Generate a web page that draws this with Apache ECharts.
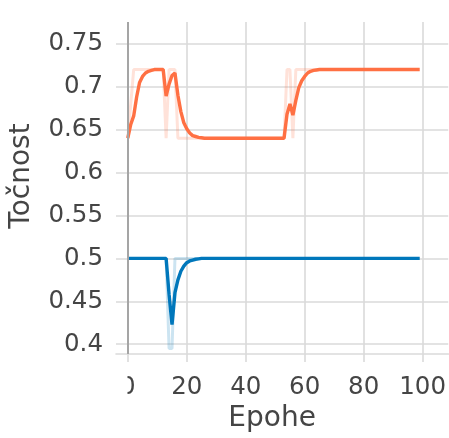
<!DOCTYPE html>
<html>
<head>
<meta charset="utf-8">
<script src="https://cdn.jsdelivr.net/npm/echarts@6/dist/echarts.min.js"></script>
<style>html,body{margin:0;padding:0;background:#fff}#c{width:449px;height:438px}</style>
</head>
<body>
<div id="c"></div>
<script>
// epochs 0..99
const epochs = Array.from({length: 100}, (_, i) => i);
const xTicks = [0, 20, 40, 60, 80, 100];
const yTicks = [0.4, 0.45, 0.5, 0.55, 0.6, 0.65, 0.7, 0.75];

// orange raw (faint)
const orangeRaw = [
  0.64, 0.68, 0.72, 0.72, 0.72, 0.72, 0.72, 0.72, 0.72, 0.72,
  0.72, 0.72, 0.72, 0.64, 0.72, 0.72, 0.72, 0.64, 0.64, 0.64,
  0.64, 0.64, 0.64, 0.64, 0.64, 0.64, 0.64, 0.64, 0.64, 0.64,
  0.64, 0.64, 0.64, 0.64, 0.64, 0.64, 0.64, 0.64, 0.64, 0.64,
  0.64, 0.64, 0.64, 0.64, 0.64, 0.64, 0.64, 0.64, 0.64, 0.64,
  0.64, 0.64, 0.64, 0.64, 0.72, 0.72, 0.64, 0.72, 0.72, 0.72,
  0.72, 0.72, 0.72, 0.72, 0.72, 0.72, 0.72, 0.72, 0.72, 0.72,
  0.72, 0.72, 0.72, 0.72, 0.72, 0.72, 0.72, 0.72, 0.72, 0.72,
  0.72, 0.72, 0.72, 0.72, 0.72, 0.72, 0.72, 0.72, 0.72, 0.72,
  0.72, 0.72, 0.72, 0.72, 0.72, 0.72, 0.72, 0.72, 0.72, 0.72
];
// orange smoothed
const orangeSmooth = [
  0.64, 0.656, 0.666, 0.688, 0.705, 0.712, 0.716, 0.718, 0.719, 0.72,
  0.72, 0.72, 0.72, 0.689, 0.703, 0.713, 0.716, 0.69, 0.671, 0.658,
  0.651, 0.646, 0.643, 0.642, 0.641, 0.6405, 0.64, 0.64, 0.64, 0.64,
  0.64, 0.64, 0.64, 0.64, 0.64, 0.64, 0.64, 0.64, 0.64, 0.64,
  0.64, 0.64, 0.64, 0.64, 0.64, 0.64, 0.64, 0.64, 0.64, 0.64,
  0.64, 0.64, 0.64, 0.64, 0.668, 0.68, 0.667, 0.684, 0.699, 0.707,
  0.712, 0.716, 0.718, 0.719, 0.7195, 0.72, 0.72, 0.72, 0.72, 0.72,
  0.72, 0.72, 0.72, 0.72, 0.72, 0.72, 0.72, 0.72, 0.72, 0.72,
  0.72, 0.72, 0.72, 0.72, 0.72, 0.72, 0.72, 0.72, 0.72, 0.72,
  0.72, 0.72, 0.72, 0.72, 0.72, 0.72, 0.72, 0.72, 0.72, 0.72
];
// blue raw (faint)
const blueRaw = [
  0.5, 0.5, 0.5, 0.5, 0.5, 0.5, 0.5, 0.5, 0.5, 0.5,
  0.5, 0.5, 0.5, 0.5, 0.395, 0.395, 0.5, 0.5, 0.5, 0.5,
  0.5, 0.5, 0.5, 0.5, 0.5, 0.5, 0.5, 0.5, 0.5, 0.5,
  0.5, 0.5, 0.5, 0.5, 0.5, 0.5, 0.5, 0.5, 0.5, 0.5,
  0.5, 0.5, 0.5, 0.5, 0.5, 0.5, 0.5, 0.5, 0.5, 0.5,
  0.5, 0.5, 0.5, 0.5, 0.5, 0.5, 0.5, 0.5, 0.5, 0.5,
  0.5, 0.5, 0.5, 0.5, 0.5, 0.5, 0.5, 0.5, 0.5, 0.5,
  0.5, 0.5, 0.5, 0.5, 0.5, 0.5, 0.5, 0.5, 0.5, 0.5,
  0.5, 0.5, 0.5, 0.5, 0.5, 0.5, 0.5, 0.5, 0.5, 0.5,
  0.5, 0.5, 0.5, 0.5, 0.5, 0.5, 0.5, 0.5, 0.5, 0.5
];
// blue smoothed
const blueSmooth = [
  0.5, 0.5, 0.5, 0.5, 0.5, 0.5, 0.5, 0.5, 0.5, 0.5,
  0.5, 0.5, 0.5, 0.5, 0.458, 0.423, 0.46, 0.475, 0.485, 0.491,
  0.495, 0.497, 0.498, 0.499, 0.4995, 0.5, 0.5, 0.5, 0.5, 0.5,
  0.5, 0.5, 0.5, 0.5, 0.5, 0.5, 0.5, 0.5, 0.5, 0.5,
  0.5, 0.5, 0.5, 0.5, 0.5, 0.5, 0.5, 0.5, 0.5, 0.5,
  0.5, 0.5, 0.5, 0.5, 0.5, 0.5, 0.5, 0.5, 0.5, 0.5,
  0.5, 0.5, 0.5, 0.5, 0.5, 0.5, 0.5, 0.5, 0.5, 0.5,
  0.5, 0.5, 0.5, 0.5, 0.5, 0.5, 0.5, 0.5, 0.5, 0.5,
  0.5, 0.5, 0.5, 0.5, 0.5, 0.5, 0.5, 0.5, 0.5, 0.5,
  0.5, 0.5, 0.5, 0.5, 0.5, 0.5, 0.5, 0.5, 0.5, 0.5
];

const ORANGE = '#ff7043';
const BLUE = '#0077bb';
const GRID = '#dadada';
const TXT = '#454545';
const FONT = 'DejaVu Sans';

const pairs = arr => epochs.map((e, i) => [e, arr[i]]);

const chart = echarts.init(document.getElementById('c'), null, {renderer: 'canvas'});
chart.setOption({
  animation: false,
  backgroundColor: '#ffffff',
  grid: {left: 116, right: 0, top: 22, bottom: 81, containLabel: false},
  xAxis: {
    type: 'value', min: -4, max: 108.7,
    name: 'Epohe', nameLocation: 'middle', nameGap: 50,
    nameTextStyle: {fontFamily: FONT, fontSize: 28, color: TXT, padding: [0, 20, 0, 0]},
    axisLine: {show: true, lineStyle: {color: GRID, width: 1.6}},
    axisTick: {show: true, inside: false, length: 8, customValues: xTicks, lineStyle: {color: GRID, width: 1.6}},
    axisLabel: {customValues: xTicks, margin: 21, fontFamily: FONT, fontSize: 24.5, color: TXT},
    splitLine: {show: true, lineStyle: {color: GRID, width: 1.6}}
  },
  yAxis: {
    type: 'value', min: 0.3885, max: 0.7754,
    name: 'Točnost', nameLocation: 'middle', nameGap: 80, nameRotate: 90,
    nameTextStyle: {fontFamily: FONT, fontSize: 28, color: TXT, padding: [0, 0, 0, 24]},
    axisLine: {show: false},
    axisTick: {show: false, customValues: yTicks},
    axisLabel: {customValues: yTicks, margin: 13, fontFamily: FONT, fontSize: 24.5, color: TXT,
      formatter: v => String(+v.toFixed(2))},
    splitLine: {show: true, lineStyle: {color: GRID, width: 1.6}}
  },
  graphic: [{
    type: 'rect', z: 100, silent: true,
    shape: {x: 100, y: 366, width: 27.5, height: 36},
    style: {fill: '#ffffff'}
  }],
  series: [
    {type: 'line', data: pairs(orangeRaw), showSymbol: false, z: 2,
     lineStyle: {color: ORANGE, width: 3, opacity: 0.2},
     markLine: {silent: true, symbol: 'none', label: {show: false},
       lineStyle: {color: '#a5a5a5', width: 2, type: 'solid'}, data: [{xAxis: 0}]}},
    {type: 'line', data: pairs(blueRaw), showSymbol: false, z: 2,
     lineStyle: {color: BLUE, width: 3, opacity: 0.2}},
    {type: 'line', data: pairs(orangeSmooth), showSymbol: false, z: 3,
     lineStyle: {color: ORANGE, width: 3.4}},
    {type: 'line', data: pairs(blueSmooth), showSymbol: false, z: 3,
     lineStyle: {color: BLUE, width: 3.4}}
  ]
});
</script>
</body>
</html>
